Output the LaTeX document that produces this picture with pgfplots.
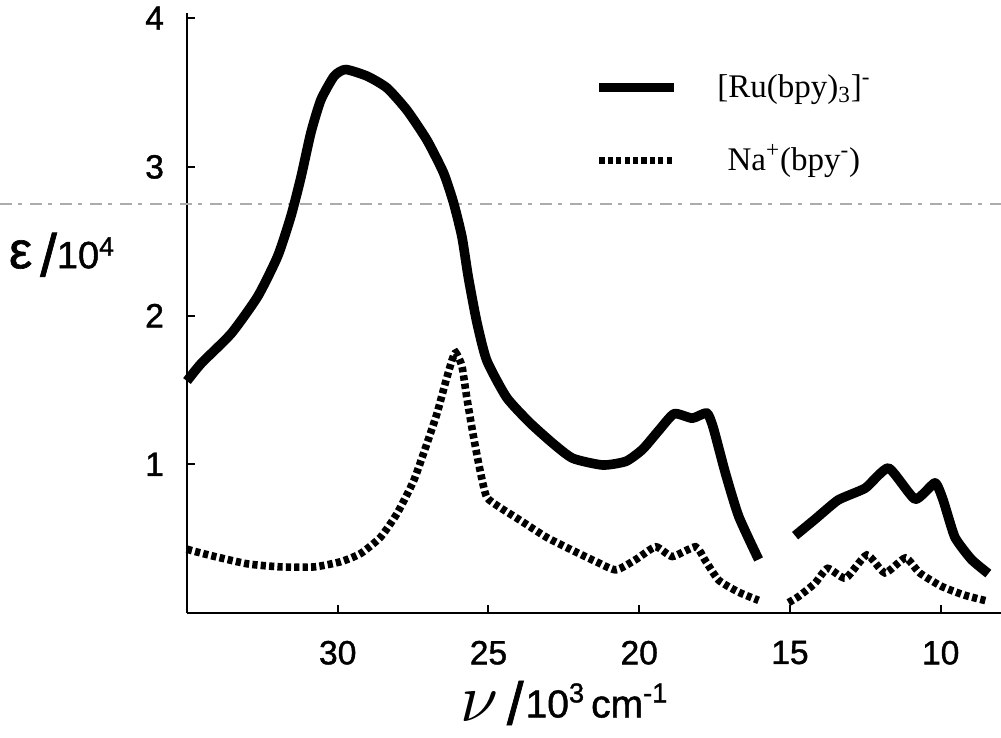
\documentclass[border=0pt]{standalone}
\usepackage{fontspec}
\setmainfont{Liberation Sans}
\newfontfamily\serifface{Liberation Serif}
\newfontfamily\heavyface[FakeBold=1.2]{Liberation Sans}
\usepackage{pgfplots}
\usepackage{pgfplotstable}
\pgfplotsset{compat=1.18}

% Absorption spectra: wavenumber (10^3 cm^-1) vs. epsilon (10^4)
\pgfplotstableread{
nu     eps
35.00  1.56
34.52  1.68
33.53  1.88
32.65  2.13
31.99  2.40
31.55  2.67
31.22  2.93
30.89  3.23
30.56  3.45
30.12  3.61
29.74  3.655
29.02  3.61
28.36  3.53
27.70  3.38
27.04  3.18
26.49  2.96
26.16  2.76
25.88  2.53
25.67  2.26
25.39  1.96
25.06  1.70
24.40  1.45
23.63  1.28
22.86  1.14
22.20  1.04
21.21  0.995
20.44  1.02
19.89  1.10
19.34  1.23
18.84  1.34
18.24  1.31
17.76  1.345
17.55  1.25
17.14  0.94
16.70  0.65
16.04  0.36
}\ruA

\pgfplotstableread{
nu     eps
14.83  0.52
14.17  0.63
13.40  0.76
12.50  0.84
11.73  0.975
10.85  0.765
10.19  0.875
9.92   0.76
9.53   0.51
8.98   0.36
8.42   0.265
}\ruB

\pgfplotstableread{
nu     eps
35.00  0.43
34.85  0.42
34.08  0.38
32.98  0.33
31.88  0.31
30.78  0.31
29.90  0.345
29.24  0.40
28.58  0.51
28.03  0.67
27.48  0.89
27.04  1.14
26.71  1.34
26.44  1.54
26.21  1.70
26.08  1.75
25.88  1.66
25.72  1.45
25.50  1.19
25.28  0.96
25.06  0.78
24.62  0.71
23.96  0.625
23.08  0.51
22.20  0.42
21.43  0.345
20.77  0.29
20.11  0.36
19.45  0.445
18.90  0.38
18.13  0.445
17.80  0.35
17.36  0.22
16.70  0.14
16.04  0.085
}\naA

\pgfplotstableread{
nu     eps
15.05  0.07
14.72  0.11
14.17  0.20
13.75  0.30
13.15  0.235
12.45  0.39
11.85  0.27
11.17  0.37
10.70  0.27
9.98   0.18
9.21   0.12
8.45   0.08
}\naB

\tikzset{
  rucurve/.style={line width=4.8pt, line join=round},
  nacurve/.style={line width=3.8pt, dash pattern=on 2.6pt off 1.6pt},
}

\begin{document}
\begin{tikzpicture}
\begin{axis}[
  name=ax,
  scale only axis,
  width=407pt, height=300pt,
  xmin=8, xmax=35, ymin=0, ymax=4.035,
  x dir=reverse,
  axis x line=bottom, axis y line=left,
  axis line style={-, line width=1.3pt},
  xtick={30,25,20,15,10},
  ytick={1,2,3,4},
  tick align=inside,
  major tick length=4pt,
  tick style={line width=1pt, black},
  /pgf/number format/assume math mode=true,
  tick label style={font=\heavyface\fontsize{16.8}{18}\selectfont},
  xticklabel style={yshift=-10.4pt},
  yticklabel style={xshift=-8pt},
  clip=false,
  xlabel={\heavyface\raisebox{-2pt}{\scalebox{3.4}{$\nu$}}\hspace{4pt}\raisebox{-3.5pt}{\fontsize{30}{30}\selectfont /}\hspace{1pt}\fontsize{19.5}{20}\selectfont 10\textsuperscript{3}\hspace{3pt}cm\textsuperscript{-1}},
  xlabel style={at={(axis description cs:0.464,0)}, anchor=center, yshift=-45pt},
  ylabel={\heavyface{\fontsize{26}{26}\selectfont ε}\hspace{4pt}\raisebox{-4pt}{\fontsize{30}{30}\selectfont /}\fontsize{19}{20}\selectfont 10\textsuperscript{4}},
  ylabel style={at={(axis description cs:0,0.597)}, anchor=center, rotate=-90, xshift=-62.5pt},
  legend style={draw=none, fill=none, at={(axis cs:21.49,3.645)}, anchor=north west,
    inner sep=0pt, row sep=20.5pt, column sep=19pt,
    nodes={inner sep=0pt, text height=13pt, text depth=3pt, anchor=center,
      font=\serifface\fontsize{16.5}{18}\selectfont}},
  legend cell align=left,
  legend image code/.code={\draw[#1] (0pt,0pt) -- (37.5pt,0pt);},
]
% faint horizontal rule running across the sheet
\draw[gray!65, line width=0.6pt, dash pattern=on 6pt off 3pt on 2pt off 4pt]
  ([xshift=-93.5pt]axis description cs:0,0.6817) -- (axis description cs:1,0.6817);

\addplot[rucurve, smooth, tension=0.35] table[x=nu, y=eps] {\ruA};
\addlegendentry{{[}Ru(bpy)\textsubscript{3}]\textsuperscript{-}}
\addplot[nacurve, smooth, tension=0.35] table[x=nu, y=eps] {\naA};
\addlegendentry{Na\textsuperscript{+}(bpy\textsuperscript{-})}

\addplot[rucurve, smooth, tension=0.3, forget plot] table[x=nu, y=eps] {\ruB};
\addplot[nacurve, smooth, tension=0.35, forget plot] table[x=nu, y=eps] {\naB};
\end{axis}
\pgfresetboundingbox
\path[use as bounding box] ([shift={(-93.5pt,-62.5pt)}]ax.south west) rectangle ([shift={(0pt,6.5pt)}]ax.north east);
\end{tikzpicture}
\end{document}
